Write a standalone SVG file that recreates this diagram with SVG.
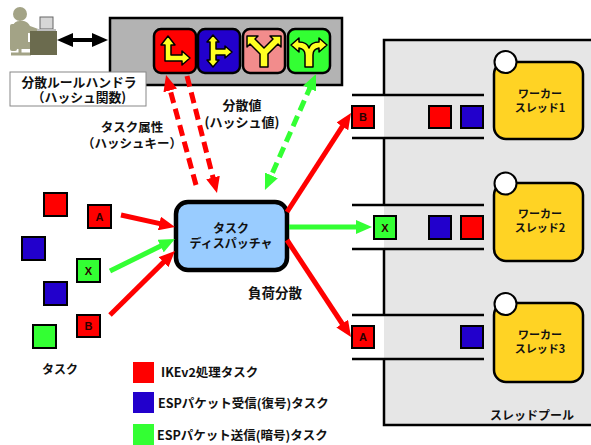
<svg xmlns="http://www.w3.org/2000/svg" width="591" height="445" viewBox="0 0 591 445">
  <style>
    .jp { font-family: "Noto Sans CJK JP", "Noto Sans", sans-serif; font-weight: bold; fill: #111; }
    .lt { font-family: "Liberation Sans", Arial, sans-serif; font-weight: bold; font-size: 11px; text-anchor: middle; fill: #2a0000; }
    .task { stroke: #000; stroke-width: 2; }
    .red { fill: #FF0000; }
    .blue { fill: #2200CC; }
    .green { fill: #33FF33; }
    .icon { stroke: #000; stroke-width: 2.5; }
    .sign { fill: #FFFF22; stroke: #000; stroke-width: 1.5; stroke-linejoin: round; }
    .worker { fill: #FFD324; stroke: #000; stroke-width: 2.5; }
    .knob { fill: #fff; stroke: #000; stroke-width: 2; }
    .qline { stroke: #000; stroke-width: 2.5; fill: none; }
    .solid { stroke-width: 5; fill: none; }
    .dash { stroke-width: 5; fill: none; stroke-dasharray: 11 6; }
  </style>
  <defs>
    <marker id="ahRed" viewBox="0 0 16 14" refX="4" refY="7" markerWidth="16" markerHeight="14" markerUnits="userSpaceOnUse" orient="auto-start-reverse">
      <path d="M0,0 L16,7 L0,14 Z" fill="#FF0000"/>
    </marker>
    <marker id="ahGreen" viewBox="0 0 16 14" refX="4" refY="7" markerWidth="16" markerHeight="14" markerUnits="userSpaceOnUse" orient="auto-start-reverse">
      <path d="M0,0 L16,7 L0,14 Z" fill="#33FF33"/>
    </marker>
    <marker id="ahBlack" viewBox="0 0 16 14" refX="4" refY="7" markerWidth="16" markerHeight="14" markerUnits="userSpaceOnUse" orient="auto-start-reverse">
      <path d="M0,0 L16,7 L0,14 Z" fill="#000"/>
    </marker>
  </defs>

  <rect width="591" height="445" fill="#fff"/>

  <!-- thread pool container -->
  <g id="thread-pool">
    <rect x="384" y="40" width="220" height="385" fill="#E6E6E6"/>
    <path d="M600,40 L384,40 L384,95 M384,138 L384,205 M384,249 L384,315 M384,359 L384,425 L600,425" stroke="#000" stroke-width="2.5" fill="none"/>
    <text class="jp" x="532" y="420" font-size="12" text-anchor="middle">スレッドプール</text>
  </g>

  <!-- operator -->
  <g id="operator">
    <rect x="10" y="24" width="7" height="27" rx="2" fill="#A3A386"/>
    <path d="M20,48 L20,53 M11,54 L31,54" stroke="#A3A386" stroke-width="3" fill="none"/>
    <circle cx="20" cy="14" r="7" fill="#A3A386"/>
    <path d="M13,26 Q14,21 20,21 L24,21 Q28,22 30,26 L41,30 L41,34 L28,33 L28,42 L36,42 L36,49 L18,49 Q13,49 13,44 Z" fill="#A3A386"/>
    <rect x="40" y="17" width="13" height="12" fill="#D6D6D6" stroke="#666" stroke-width="1"/>
    <rect x="37" y="29" width="19" height="2.5" fill="#BDBDBD"/>
    <rect x="30" y="31" width="27" height="24" fill="#6B6B4E"/>
  </g>

  <!-- hash rule handler -->
  <g id="rule-handler">
    <rect x="110" y="18" width="232" height="67" fill="#B3B3B3" stroke="#000" stroke-width="2.5"/>
    <rect x="154" y="29" width="42" height="44" rx="7" class="icon red"/>
    <path class="sign" d="M168,36 L175,45 L171,45 L171,55 L182,55 L182,51 L190,58 L182,65 L182,61 L165,61 L165,45 L161,45 Z"/>
    <rect x="198" y="29" width="42" height="44" rx="7" class="icon blue"/>
    <path class="sign" d="M213,35 L219,42 L216,42 L216,49 L225,49 L225,46 L232,52 L225,58 L225,55 L216,55 L216,60 L219,60 L213,67 L207,60 L210,60 L210,42 L207,42 Z"/>
    <rect x="243" y="29" width="42" height="44" rx="7" class="icon" fill="#F28C8C"/>
    <path class="sign" d="M260,67 L268,67 L268,54 L278,44 L281,47 L281,36 L270,36 L273,39 L264,48 L255,39 L258,36 L247,36 L247,47 L250,44 L260,54 Z"/>
    <rect x="288" y="29" width="42" height="44" rx="7" class="icon green"/>
    <path class="sign" d="M305,67 L313,67 L313,55 Q313,49 319,48 L319,52 L327,45 L319,38 L319,42 Q311,42 309,48 Q307,42 299,42 L299,38 L291,45 L299,52 L299,48 Q305,49 305,55 Z"/>
  </g>

  <g id="rule-handler-label">
    <rect x="10" y="72" width="136" height="34" fill="#fff" stroke="#888" stroke-width="1"/>
    <text class="jp" font-size="12.8" text-anchor="middle"><tspan x="79" y="87">分散ルールハンドラ</tspan><tspan x="79" y="102">（ハッシュ関数)</tspan></text>
  </g>

  <!-- dispatcher -->
  <g id="dispatcher">
    <rect x="176" y="202" width="111" height="68" rx="12" fill="#99CCFF" stroke="#000" stroke-width="4.5"/>
    <text class="jp" font-size="12" text-anchor="middle"><tspan x="231" y="233">タスク</tspan><tspan x="231" y="248">ディスパッチャ</tspan></text>
  </g>

  <!-- incoming tasks -->
  <g id="incoming-tasks">
    <rect x="44" y="193" width="23" height="23" class="task red"/>
    <rect x="88" y="205" width="23" height="23" class="task red"/>
    <text class="lt" x="99.5" y="221">A</text>
    <rect x="22" y="237" width="23" height="23" class="task blue"/>
    <rect x="77" y="259" width="23" height="23" class="task green"/>
    <text class="lt" x="88.5" y="275" fill="#002200">X</text>
    <rect x="44" y="282" width="23" height="23" class="task blue"/>
    <rect x="77" y="315" width="23" height="22" class="task red"/>
    <text class="lt" x="88.5" y="330">B</text>
    <rect x="33" y="325" width="23" height="23" class="task green"/>
    <text class="jp" x="60" y="374" font-size="12" text-anchor="middle">タスク</text>
  </g>

  <!-- worker thread 1 -->
  <g id="worker-1">
    <path class="qline" d="M352,95 L484,95 M352,138 L484,138"/>
    <rect x="352" y="106" width="22" height="22" class="task red"/>
    <text class="lt" x="363" y="121">B</text>
    <rect x="429" y="106" width="22" height="22" class="task red"/>
    <rect x="461" y="106" width="22" height="22" class="task blue"/>
    <rect x="494" y="62" width="89" height="77" rx="12" class="worker"/>
    <circle cx="505.5" cy="62" r="11" class="knob"/>
    <text class="jp" font-size="11" text-anchor="middle"><tspan x="540" y="98">ワーカー</tspan><tspan x="540" y="112">スレッド1</tspan></text>
  </g>

  <!-- worker thread 2 -->
  <g id="worker-2">
    <path class="qline" d="M352,205 L484,205 M352,249 L484,249"/>
    <rect x="374" y="216" width="22" height="23" class="task green"/>
    <text class="lt" x="385" y="232" fill="#002200">X</text>
    <rect x="429" y="216" width="22" height="23" class="task blue"/>
    <rect x="461" y="216" width="22" height="23" class="task red"/>
    <rect x="494" y="183" width="89" height="78" rx="12" class="worker"/>
    <circle cx="505.5" cy="183.5" r="11" class="knob"/>
    <text class="jp" font-size="11" text-anchor="middle"><tspan x="540" y="218">ワーカー</tspan><tspan x="540" y="232">スレッド2</tspan></text>
  </g>

  <!-- worker thread 3 -->
  <g id="worker-3">
    <path class="qline" d="M352,315 L484,315 M352,359 L484,359"/>
    <rect x="352" y="326" width="22" height="22" class="task red"/>
    <text class="lt" x="363" y="341">A</text>
    <rect x="461" y="326" width="22" height="22" class="task blue"/>
    <rect x="494" y="303" width="89" height="79" rx="12" class="worker"/>
    <circle cx="505.5" cy="304" r="11" class="knob"/>
    <text class="jp" font-size="11" text-anchor="middle"><tspan x="540" y="339">ワーカー</tspan><tspan x="540" y="353">スレッド3</tspan></text>
  </g>

  <!-- connectors -->
  <g id="connectors">
    <line x1="69" y1="40" x2="96" y2="40" stroke="#000" stroke-width="4" marker-start="url(#ahBlack)" marker-end="url(#ahBlack)"/>
    <line class="dash" x1="196" y1="185" x2="169.2" y2="86.6" stroke="#FF0000" marker-end="url(#ahRed)"/>
    <line class="dash" x1="187" y1="76" x2="214" y2="181.4" stroke="#FF0000" marker-end="url(#ahRed)"/>
    <line class="dash" x1="311.2" y1="85" x2="269.8" y2="179" stroke="#33FF33" marker-start="url(#ahGreen)" marker-end="url(#ahGreen)"/>
    <line class="solid" x1="121" y1="215" x2="163.3" y2="224.4" stroke="#FF0000" marker-end="url(#ahRed)"/>
    <line class="solid" x1="110" y1="271" x2="164.2" y2="244.3" stroke="#33FF33" marker-end="url(#ahGreen)"/>
    <line class="solid" x1="110" y1="315" x2="166.4" y2="259.4" stroke="#FF0000" marker-end="url(#ahRed)"/>
    <line class="solid" x1="287" y1="212" x2="344.5" y2="123.1" stroke="#FF0000" marker-end="url(#ahRed)"/>
    <line class="solid" x1="289" y1="227" x2="360" y2="227" stroke="#33FF33" marker-end="url(#ahGreen)"/>
    <line class="solid" x1="287" y1="240" x2="344.4" y2="327" stroke="#FF0000" marker-end="url(#ahRed)"/>
  </g>

  <!-- connector labels -->
  <g id="connector-labels">
    <text class="jp" font-size="12.5" text-anchor="middle"><tspan x="132" y="132">タスク属性</tspan><tspan x="132" y="148">（ハッシュキー）</tspan></text>
    <text class="jp" font-size="13" text-anchor="middle"><tspan x="242" y="110">分散値</tspan><tspan x="242" y="127">(ハッシュ値)</tspan></text>
    <text class="jp" x="275" y="298" font-size="13.5" text-anchor="middle">負荷分散</text>
  </g>

  <!-- legend -->
  <g id="legend">
    <rect x="133" y="362" width="21" height="21" class="red"/>
    <text class="jp" x="161" y="377" font-size="12.5">IKEv2処理タスク</text>
    <rect x="133" y="392" width="21" height="21" class="blue"/>
    <text class="jp" x="158" y="408" font-size="12.5">ESPパケット受信(復号)タスク</text>
    <rect x="133" y="424" width="21" height="21" class="green"/>
    <text class="jp" x="157" y="440" font-size="12.5">ESPパケット送信(暗号)タスク</text>
  </g>
</svg>
